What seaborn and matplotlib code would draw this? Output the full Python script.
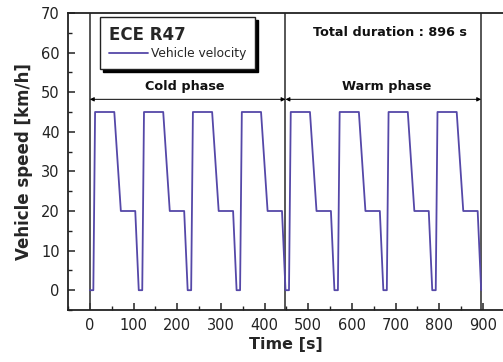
import matplotlib
matplotlib.use("Agg")
import matplotlib.pyplot as plt
import pandas as pd
import seaborn as sns
from matplotlib.ticker import MultipleLocator

# ---- data ----
time_s = [0, 8, 12, 56, 71, 104, 112,
          120, 124, 168, 183, 216, 224,
          232, 236, 280, 295, 328, 336,
          344, 348, 392, 407, 440, 448,
          456, 460, 504, 519, 552, 560,
          568, 572, 616, 631, 664, 672,
          680, 684, 728, 743, 776, 784,
          792, 796, 840, 855, 888, 896]
speed_kmh = [0, 0, 45, 45, 20, 20, 0,
             0, 45, 45, 20, 20, 0,
             0, 45, 45, 20, 20, 0,
             0, 45, 45, 20, 20, 0,
             0, 45, 45, 20, 20, 0,
             0, 45, 45, 20, 20, 0,
             0, 45, 45, 20, 20, 0,
             0, 45, 45, 20, 20, 0]
phase_bounds = [0, 448, 896]
phase_labels = ["Cold phase", "Warm phase"]
x_ticks = [0, 100, 200, 300, 400, 500, 600, 700, 800, 900]
y_ticks = [0, 10, 20, 30, 40, 50, 60, 70]

sns.set_style("ticks")
plt.rcParams["font.family"] = ["DejaVu Sans"]

W, H = 503, 362
fig = plt.figure(figsize=(W / 100, H / 100), dpi=100)
ax = fig.add_axes([68 / W, 1 - 310 / H, (W - 68) / W, (310 - 13) / H])

df = pd.DataFrame({"Time [s]": time_s, "Vehicle speed [km/h]": speed_kmh})
sns.lineplot(data=df, x="Time [s]", y="Vehicle speed [km/h]", ax=ax,
             color="#5548a8", lw=1.3, label="Vehicle velocity",
             sort=False, estimator=None, zorder=3)

for b in phase_bounds:
    ax.axvline(b, color="#3a3a3a", lw=1.2, zorder=2)

# phase arrows and labels
arrow_y = 48.2
for i, lab in enumerate(phase_labels):
    x0, x1 = phase_bounds[i], phase_bounds[i + 1]
    ax.annotate("", xy=(x1, arrow_y), xytext=(x0, arrow_y),
                arrowprops=dict(arrowstyle="<|-|>", color="black", lw=0.7,
                                mutation_scale=6, shrinkA=0, shrinkB=0),
                zorder=4)
ax.text(217, 51.4, phase_labels[0], ha="center", va="center",
        fontsize=9.2, fontweight="bold", color="#111111")
ax.text(679, 51.4, phase_labels[1], ha="center", va="center",
        fontsize=9.2, fontweight="bold", color="#111111")
ax.text(688, 65.2, "Total duration : 896 s", ha="center", va="center",
        fontsize=9.2, fontweight="bold", color="#111111")

ax.set_xlim(-50, 946)
ax.set_ylim(-5, 70)
ax.set_xticks(x_ticks)
ax.set_yticks(y_ticks)
ax.xaxis.set_minor_locator(MultipleLocator(50))
ax.yaxis.set_minor_locator(MultipleLocator(5))
ax.tick_params(which="major", direction="in", length=5, width=1.1,
               labelsize=10.5, colors="#222222", pad=6)
ax.tick_params(which="minor", direction="in", length=3, width=1.0,
               colors="#222222")
ax.spines["right"].set_visible(False)
for s in ["left", "bottom", "top"]:
    ax.spines[s].set_linewidth(1.3)
    ax.spines[s].set_color("#222222")

ax.set_xlabel("Time [s]", fontsize=11.5, fontweight="bold", labelpad=3)
ax.set_ylabel("Vehicle speed [km/h]", fontsize=12, fontweight="bold",
              labelpad=6)

leg = ax.legend(title="ECE R47", loc="upper left",
                bbox_to_anchor=((100 - 68) / (W - 68), (310 - 17) / 297),
                borderaxespad=0, alignment="left", fontsize=8.8,
                title_fontproperties={"weight": "bold", "size": 12},
                frameon=True, fancybox=False, handlelength=3.2,
                handletextpad=0.2, borderpad=0.75, labelspacing=0.3,
                shadow={"color": "black", "alpha": 1, "ox": 2.2, "oy": -2.2})
leg._legend_box.sep = 2
leg.get_frame().set_edgecolor("#222222")
leg.get_frame().set_linewidth(1.0)
leg.get_frame().set_facecolor("white")
leg.get_frame().set_alpha(1)

fig.savefig("out.png", dpi=100)
